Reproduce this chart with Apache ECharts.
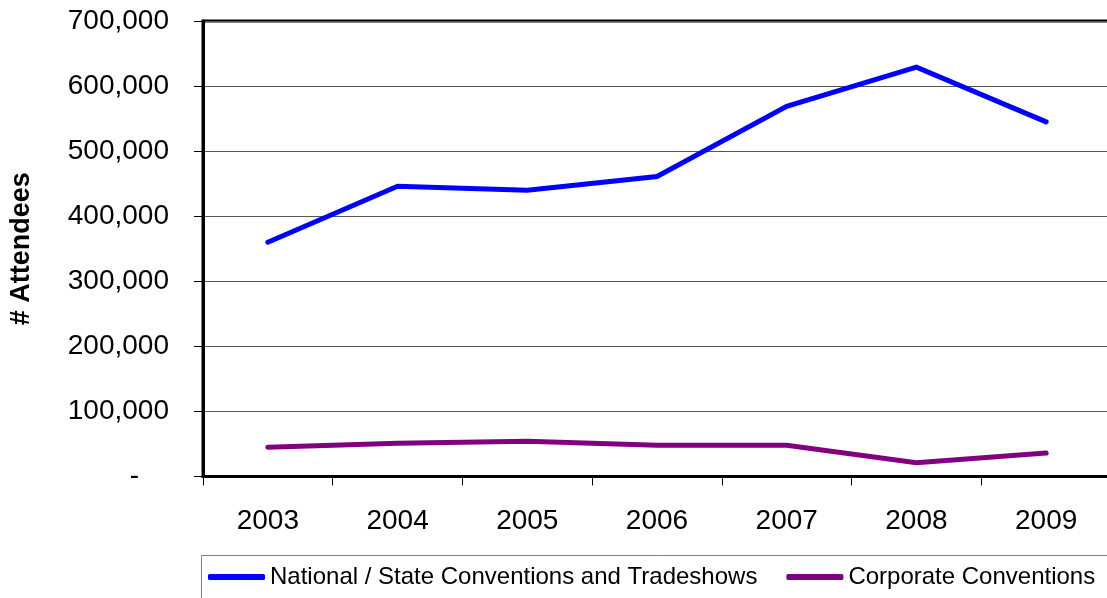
<!DOCTYPE html>
<html>
<head>
<meta charset="utf-8">
<title>Convention Attendees 2003-2009</title>
<script src="https://cdn.jsdelivr.net/npm/echarts@6/dist/echarts.min.js"></script>
<style>
  html, body { margin: 0; padding: 0; background: #ffffff; overflow: hidden; }
  /* the plot frame runs past the right edge of the page */
  #chart { width: 1115px; height: 598px; }
</style>
</head>
<body>
<div id="chart"></div>
<script>
// Attendance by year
const years = ['2003', '2004', '2005', '2006', '2007', '2008', '2009'];
const nationalState = [360000, 446000, 440000, 461000, 569000, 629000, 545000];
const corporate = [45000, 51000, 54000, 48000, 48000, 21000, 36000];
const seriesNames = ['National / State Conventions and Tradeshows', 'Corporate Conventions'];

const FONT = '"Liberation Sans", Arial, sans-serif';

const chart = echarts.init(document.getElementById('chart'), null, { renderer: 'canvas' });

chart.setOption({
  backgroundColor: '#ffffff',
  animation: false,
  textStyle: { fontFamily: FONT, color: '#000' },
  grid: {
    left: 201,
    top: 21,
    width: 910,
    height: 455.5,
    show: true,
    borderColor: '#000',
    borderWidth: 3,
    containLabel: false
  },
  // legend frame continues past the bottom/right edge
  graphic: [{
    type: 'rect',
    shape: { x: 201.5, y: 555.5, width: 1000, height: 100 },
    style: { fill: 'none', stroke: '#808080', lineWidth: 1 },
    silent: true,
    z: -1
  }],
  legend: {
    left: 208,
    top: 565,
    itemWidth: 57,
    itemHeight: 6,
    itemGap: 29,
    icon: 'roundRect',
    padding: 0,
    textStyle: { fontFamily: FONT, fontSize: 24, color: '#000' },
    data: seriesNames
  },
  xAxis: {
    type: 'category',
    data: years,
    boundaryGap: true,
    axisLine: { show: true, lineStyle: { color: '#000', width: 3 } },
    axisTick: { show: true, alignWithLabel: false, interval: 0, length: 9, lineStyle: { color: '#000', width: 1 } },
    axisLabel: { fontFamily: FONT, fontSize: 28, color: '#000', margin: 31, interval: 0 },
    splitLine: { show: false }
  },
  yAxis: {
    type: 'value',
    min: 0,
    max: 700000,
    interval: 100000,
    name: '# Attendees',
    nameLocation: 'middle',
    nameRotate: 90,
    nameGap: 168,
    nameTextStyle: { fontFamily: FONT, fontSize: 27, fontWeight: 'bold', color: '#000' },
    axisLine: { show: true, lineStyle: { color: '#000', width: 3 } },
    axisTick: { show: true, length: 9, lineStyle: { color: '#000', width: 1 } },
    axisLabel: {
      fontFamily: FONT,
      fontSize: 28,
      color: '#000',
      margin: 34,
      formatter: function (v) {
        if (v === 0) return '{d|-}';
        return v.toLocaleString('en-US');
      },
      rich: {
        d: { fontFamily: FONT, fontSize: 28, color: '#000', padding: [0, 30, 0, 0] }
      }
    },
    splitLine: { show: true, lineStyle: { color: '#555555', width: 1 } }
  },
  series: [
    {
      name: seriesNames[0],
      type: 'line',
      data: nationalState,
      symbol: 'none',
      color: '#0000ff',
      lineStyle: { color: '#0000ff', width: 5, cap: 'round', join: 'miter' },
      z: 3
    },
    {
      name: seriesNames[1],
      type: 'line',
      data: corporate,
      symbol: 'none',
      color: '#800080',
      lineStyle: { color: '#800080', width: 5, cap: 'round', join: 'miter' },
      z: 3
    }
  ]
});
</script>
</body>
</html>
